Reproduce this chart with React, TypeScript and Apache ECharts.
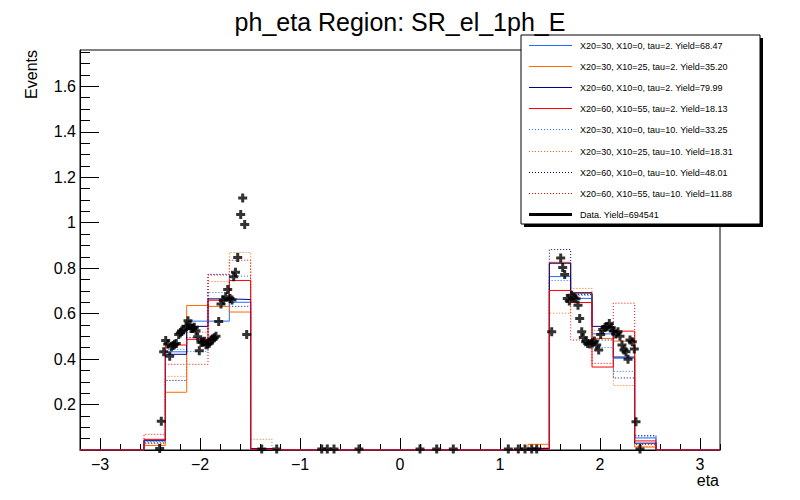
import React, { useEffect, useRef } from "react";
import * as echarts from "echarts";

// ---------------- data ----------------
const ETA_MIN = -3.2;
const ETA_MAX = 3.2;
const NBINS = 30;

// model histograms (30 bins over [-3.2, 3.2])
const blueSolid = [0, 0, 0, 0.04, 0.432, 0.567, 0.567, 0.65, 0.004, 0, 0, 0, 0, 0, 0, 0, 0, 0, 0, 0, 0, 0.005, 0.763, 0.667, 0.511, 0.404, 0.053, 0, 0, 0];
const orangeSolid = [0, 0, 0, 0.02, 0.254, 0.636, 0.632, 0.607, 0.004, 0, 0, 0, 0, 0, 0, 0, 0, 0, 0, 0, 0, 0.025, 0.826, 0.689, 0.491, 0.479, 0.013, 0, 0, 0];
const navySolid = [0, 0, 0, 0.043, 0.421, 0.544, 0.665, 0.662, 0.006, 0, 0, 0, 0, 0, 0, 0, 0, 0, 0, 0, 0, 0.007, 0.822, 0.692, 0.544, 0.409, 0.03, 0, 0, 0];
const redSolid = [0, 0, 0, 0.047, 0.462, 0.487, 0.659, 0.746, 0.003, 0, 0, 0, 0, 0, 0, 0, 0, 0, 0, 0, 0, 0.003, 0.702, 0.649, 0.365, 0.523, 0.04, 0, 0, 0];
const blueDotted = [0, 0, 0, 0.036, 0.443, 0.434, 0.693, 0.765, 0.004, 0, 0, 0, 0, 0, 0, 0, 0, 0, 0, 0, 0, 0.005, 0.746, 0.68, 0.451, 0.346, 0.058, 0, 0, 0];
const orangeDotted = [0, 0, 0, 0.028, 0.324, 0.518, 0.741, 0.869, 0.047, 0, 0, 0, 0, 0, 0, 0, 0, 0, 0, 0, 0, 0.01, 0.602, 0.711, 0.525, 0.284, 0.016, 0, 0, 0];
const navyDotted = [0, 0, 0, 0.031, 0.306, 0.495, 0.773, 0.632, 0.004, 0, 0, 0, 0, 0, 0, 0, 0, 0, 0, 0, 0, 0.007, 0.882, 0.684, 0.484, 0.317, 0.064, 0, 0, 0];
const redDotted = [0, 0, 0, 0.069, 0.377, 0.377, 0.77, 0.835, 0.003, 0, 0, 0, 0, 0, 0, 0, 0, 0, 0, 0, 0, 0.003, 0.82, 0.484, 0.381, 0.646, 0.024, 0, 0, 0];

const legendLabels = [
  "X20=30, X10=0, tau=2. Yield=68.47",
  "X20=30, X10=25, tau=2. Yield=35.20",
  "X20=60, X10=0, tau=2. Yield=79.99",
  "X20=60, X10=55, tau=2. Yield=18.13",
  "X20=30, X10=0, tau=10. Yield=33.25",
  "X20=30, X10=25, tau=10. Yield=18.31",
  "X20=60, X10=0, tau=10. Yield=48.01",
  "X20=60, X10=55, tau=10. Yield=11.88",
  "Data. Yield=694541",
];

// data points
const dataEta = [
  -2.403, -2.387, -2.363, -2.343, -2.323, -2.303, -2.287, -2.27, -2.255, -2.237, -2.213, -2.197, -2.183, -2.163, -2.14, -2.12, -2.1, -2.09, -2.073, -2.057, -2.04, -2.023, -2.007, -1.99, -1.973, -1.957, -1.94, -1.923, -1.907, -1.89, -1.873, -1.857, -1.84, -1.813, -1.79, -1.767, -1.743, -1.723, -1.7, -1.68, -1.663, -1.645, -1.623, -1.593, -1.573, -1.553, -1.533,
  -1.383, -1.233, -0.783, -0.727, -0.66, -0.41, 0.2, 0.367, 0.533, 1.083, 1.183, 1.25, 1.317, 1.367,
  1.517, 1.607, 1.627, 1.647, 1.673, 1.693, 1.717, 1.74, 1.76, 1.78, 1.797, 1.817, 1.833, 1.857, 1.877, 1.9, 1.923, 1.943, 1.967, 1.987, 2.007, 2.027, 2.05, 2.073, 2.093, 2.113, 2.133, 2.157, 2.18, 2.2, 2.22, 2.24, 2.26, 2.28, 2.3, 2.323, 2.343, 2.36, 2.4,
];
const dataVal = [
  0.007, 0.126, 0.432, 0.482, 0.466, 0.413, 0.454, 0.46, 0.465, 0.469, 0.508, 0.515, 0.524, 0.53, 0.545, 0.569, 0.55, 0.535, 0.535, 0.54, 0.525, 0.498, 0.437, 0.474, 0.474, 0.478, 0.463, 0.465, 0.47, 0.484, 0.488, 0.494, 0.501, 0.565, 0.642, 0.659, 0.674, 0.706, 0.667, 0.66, 0.762, 0.782, 0.847, 1.036, 1.109, 0.992, 0.508,
  0.004, 0.004, 0.004, 0.004, 0.004, 0.004, 0.004, 0.004, 0.004, 0.004, 0.004, 0.004, 0.004, 0.004,
  0.52, 0.845, 0.803, 0.772, 0.667, 0.656, 0.681, 0.67, 0.665, 0.637, 0.579, 0.52, 0.495, 0.476, 0.469, 0.466, 0.472, 0.48, 0.462, 0.44, 0.508, 0.53, 0.539, 0.542, 0.557, 0.538, 0.524, 0.51, 0.52, 0.501, 0.462, 0.44, 0.432, 0.399, 0.484, 0.476, 0.444, 0.124, 0.004,
];

const xMajorTicks = [-3, -2, -1, 0, 1, 2, 3];
const yMajorTicks = [0.2, 0.4, 0.6, 0.8, 1.0, 1.2, 1.4, 1.6];

// ---------------- styling ----------------
const FONT = "Liberation Sans, Arial, Helvetica, sans-serif";
const BLUE = "#1f6ff0";
const ORANGE = "#ff6a00";
const NAVY = "#000088";
const RED = "#ff0000";
const DOT: number[] = [1, 2];

const histDefs = [
  { vals: blueSolid, color: BLUE, dotted: false },
  { vals: orangeSolid, color: ORANGE, dotted: false },
  { vals: navySolid, color: NAVY, dotted: false },
  { vals: redSolid, color: RED, dotted: false },
  { vals: blueDotted, color: BLUE, dotted: true },
  { vals: orangeDotted, color: ORANGE, dotted: true },
  { vals: navyDotted, color: NAVY, dotted: true },
  { vals: redDotted, color: RED, dotted: true },
];

const PLUS = "path://M3,0H6V3H9V6H6V9H3V6H0V3H3Z";

function fmtNum(v: number): string {
  const r = Math.round(v * 10) / 10;
  const s = String(Math.abs(r));
  return r < 0 ? "\u2212" + s : s;
}

export default function App() {
  const ref = useRef<HTMLDivElement>(null);

  useEffect(() => {
    if (!ref.current) return;
    const chart = echarts.init(ref.current, undefined, { renderer: "svg" });

    const binW = (ETA_MAX - ETA_MIN) / NBINS;
    const edges = Array.from({ length: NBINS }, (_, k) => ETA_MIN + k * binW);
    const xMinor: number[] = [];
    for (let k = 0; k <= 32; k++) xMinor.push(Math.round((ETA_MIN + k * 0.2) * 100) / 100);
    const yMinor: number[] = [];
    for (let k = 1; k <= 35; k++) yMinor.push(Math.round(k * 0.05 * 100) / 100);

    // draw dotted first, solids on top
    const order = [4, 5, 6, 7, 0, 1, 2, 3];
    const histSeries = order.map((i) => {
      const h = histDefs[i];
      const d = edges.map((e, k) => [e, h.vals[k]]);
      d.push([ETA_MAX, h.vals[NBINS - 1]]);
      return {
        type: "line",
        step: "end",
        data: d,
        symbol: "none",
        showSymbol: false,
        silent: true,
        xAxisIndex: 0,
        yAxisIndex: 0,
        lineStyle: { color: h.color, width: 1, type: h.dotted ? DOT : "solid" },
        z: 2,
      };
    });

    const legendX0 = 521;
    const legendY0 = 35;
    const legendW = 239;
    const legendH = 189;
    const rowY = (i: number) => 45 + i * 21.1;
    const legendChildren: any[] = [
      { type: "rect", shape: { x: legendX0 + 3, y: legendY0 + 3, width: legendW, height: legendH }, style: { fill: "#000" } },
      { type: "rect", shape: { x: legendX0, y: legendY0, width: legendW, height: legendH }, style: { fill: "#fff", stroke: "#000", lineWidth: 1 } },
    ];
    legendLabels.forEach((lab, i) => {
      const y = Math.round(rowY(i)) + 0.5;
      if (i < 8) {
        const h = histDefs[i];
        legendChildren.push({
          type: "line",
          shape: { x1: 529, y1: y, x2: 572, y2: y },
          style: { stroke: h.color, lineWidth: 1, lineDash: h.dotted ? DOT : null },
        });
      } else {
        legendChildren.push({
          type: "line",
          shape: { x1: 529, y1: y, x2: 572, y2: y },
          style: { stroke: "#000", lineWidth: 3 },
        });
      }
      legendChildren.push({
        type: "text",
        x: 580,
        y: y,
        style: { text: lab, fill: "#000", font: `9px ${FONT}`, textAlign: "left", textVerticalAlign: "middle" },
      });
    });

    const option: any = {
      animation: false,
      backgroundColor: "#fff",
      grid: { left: 80, right: 80, top: 50, height: 400, show: true, borderColor: "#000", borderWidth: 1, backgroundColor: "transparent", containLabel: false },
      xAxis: [
        {
          type: "value",
          min: ETA_MIN,
          max: ETA_MAX,
          position: "bottom",
          axisLine: { show: true, onZero: false, lineStyle: { color: "#000", width: 1 } },
          axisTick: { show: true, inside: true, length: 12, customValues: xMajorTicks, lineStyle: { color: "#000", width: 1 } },
          axisLabel: { show: true, customValues: xMajorTicks, formatter: (v: number) => fmtNum(v), fontSize: 16, color: "#000", fontFamily: FONT, margin: 6 },
          splitLine: { show: false },
        },
        {
          type: "value",
          min: ETA_MIN,
          max: ETA_MAX,
          position: "bottom",
          axisLine: { show: false, onZero: false },
          axisTick: { show: true, inside: true, length: 6, customValues: xMinor, lineStyle: { color: "#000", width: 1 } },
          axisLabel: { show: false },
          splitLine: { show: false },
        },
      ],
      yAxis: [
        {
          type: "value",
          min: 0,
          max: 1.76,
          position: "left",
          axisLine: { show: true, onZero: false, lineStyle: { color: "#000", width: 1 } },
          axisTick: { show: true, inside: true, length: 19, customValues: yMajorTicks, lineStyle: { color: "#000", width: 1 } },
          axisLabel: { show: true, customValues: yMajorTicks, formatter: (v: number) => fmtNum(v), fontSize: 16, color: "#000", fontFamily: FONT, margin: 4 },
          splitLine: { show: false },
        },
        {
          type: "value",
          min: 0,
          max: 1.76,
          position: "left",
          axisLine: { show: false, onZero: false },
          axisTick: { show: true, inside: true, length: 10, customValues: yMinor, lineStyle: { color: "#000", width: 1 } },
          axisLabel: { show: false },
          splitLine: { show: false },
        },
      ],
      series: [
        ...histSeries,
        {
          type: "scatter",
          xAxisIndex: 0,
          yAxisIndex: 0,
          symbol: PLUS,
          symbolSize: 9,
          silent: true,
          itemStyle: { color: "#000" },
          data: dataEta.map((e, i) => [e, dataVal[i]]),
          z: 5,
        },
      ],
      graphic: [
        {
          type: "text",
          x: 400,
          y: 22,
          z: 10,
          style: { text: "ph_eta Region: SR_el_1ph_E", fill: "#000", font: `25px ${FONT}`, textAlign: "center", textVerticalAlign: "middle" },
        },
        {
          type: "text",
          x: 31,
          y: 50,
          rotation: Math.PI / 2,
          z: 10,
          style: { text: "Events", fill: "#000", font: `16px ${FONT}`, textAlign: "right", textVerticalAlign: "middle" },
        },
        {
          type: "text",
          x: 719,
          y: 480,
          z: 10,
          style: { text: "eta", fill: "#000", font: `16px ${FONT}`, textAlign: "right", textVerticalAlign: "middle" },
        },
        { type: "group", z: 20, children: legendChildren },
      ],
    };

    chart.setOption(option);
    return () => chart.dispose();
  }, []);

  return <div ref={ref} style={{ position: "fixed", left: 0, top: 0, width: 800, height: 500, background: "#fff" }} />;
}
